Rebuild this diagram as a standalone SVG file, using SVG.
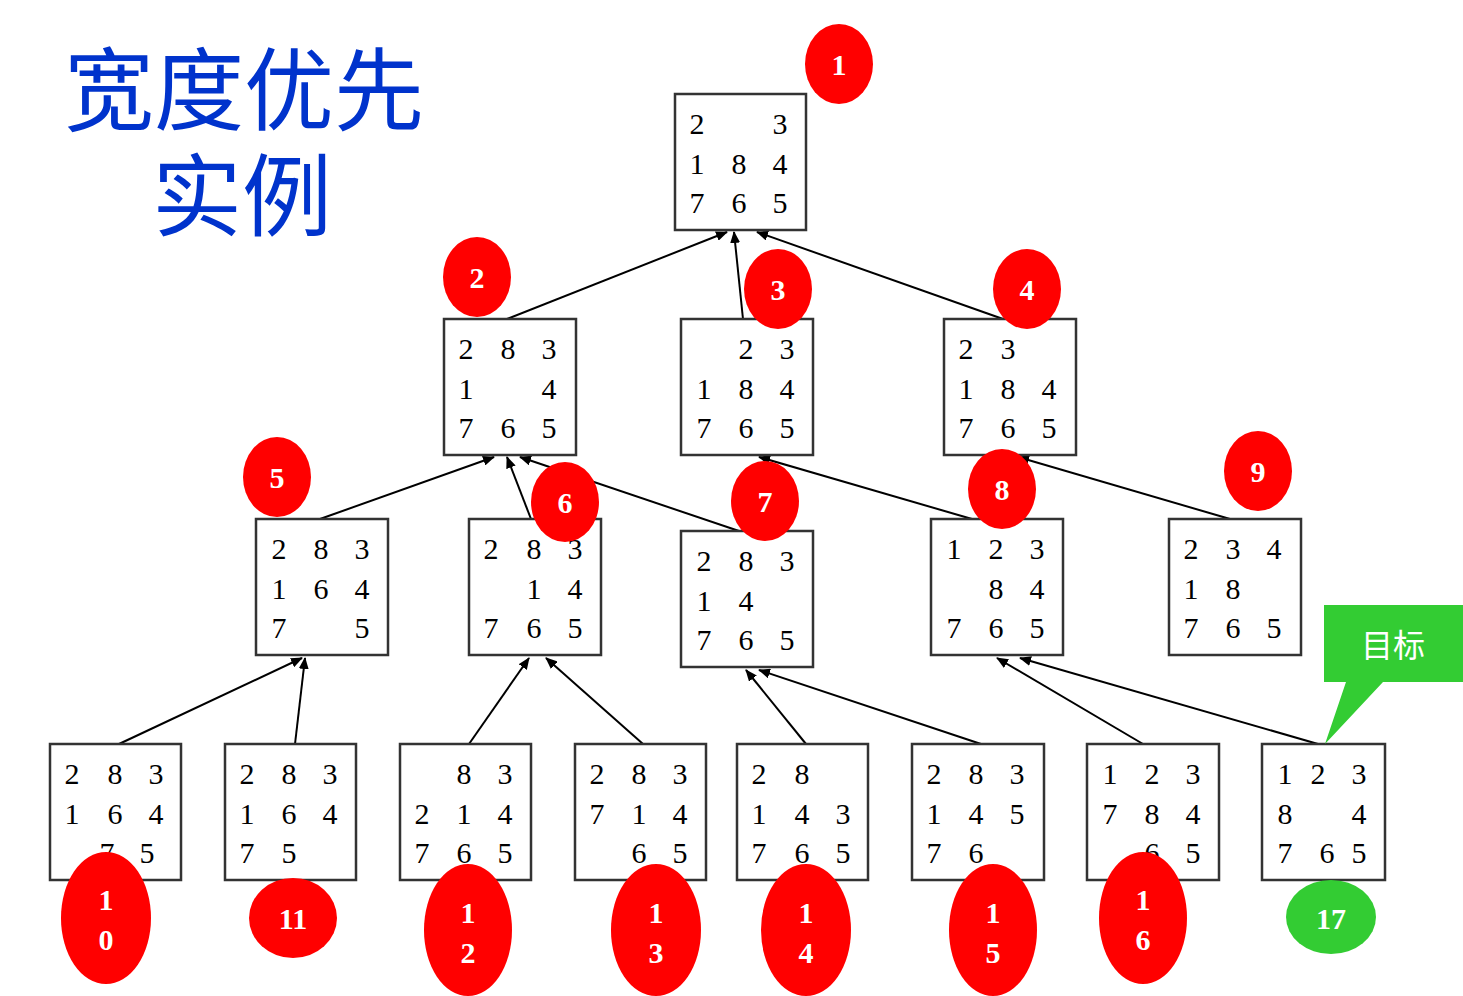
<svg xmlns="http://www.w3.org/2000/svg" width="1463" height="996" viewBox="0 0 1463 996">
<style>
.box{fill:#fff;stroke:#333;stroke-width:2.5}
.d{font-family:"Liberation Serif","Times New Roman",serif;font-size:30px;fill:#000;text-anchor:middle}
.lbl{font-family:"Liberation Serif","Times New Roman",serif;font-size:30px;font-weight:bold;fill:#fff;text-anchor:middle}
.red{fill:#ff0000}
.grn{fill:#33cc33}
.conn line{stroke:#000;stroke-width:2;marker-end:url(#arr)}
.title{font-family:"Liberation Sans","Noto Sans CJK SC","Noto Sans CJK JP",sans-serif;font-size:90px;fill:#0033cc;text-anchor:middle}
</style>
<defs>
<marker id="arr" viewBox="0 0 12 10" refX="11" refY="5" markerWidth="12" markerHeight="10" markerUnits="userSpaceOnUse" orient="auto">
<path d="M0,0 L12,5 L0,10 z" fill="#000"/>
</marker>
</defs>
<rect width="1463" height="996" fill="#fff"/>
<g id="title">
<text class="title" x="244" y="123">宽度优先</text>
<text class="title" x="242" y="229">实例</text>
</g>
<g id="connectors" class="conn">
<line x1="507" y1="319" x2="727" y2="232"/>
<line x1="743" y1="319" x2="734" y2="232"/>
<line x1="1003" y1="319" x2="757" y2="232"/>
<line x1="320" y1="519" x2="494" y2="457"/>
<line x1="531" y1="519" x2="507" y2="457"/>
<line x1="739" y1="531" x2="520" y2="457"/>
<line x1="972" y1="519" x2="759" y2="457"/>
<line x1="1230" y1="519" x2="1018" y2="457"/>
<line x1="119" y1="744" x2="302" y2="658"/>
<line x1="295" y1="744" x2="305" y2="658"/>
<line x1="469" y1="744" x2="529" y2="658"/>
<line x1="643" y1="744" x2="546" y2="658"/>
<line x1="806" y1="744" x2="746" y2="670"/>
<line x1="981" y1="744" x2="759" y2="670"/>
<line x1="1143" y1="744" x2="997" y2="658"/>
<line x1="1318" y1="744" x2="1020" y2="658"/>
</g>
<g id="n1"><rect class="box" x="675" y="94" width="131" height="136"/>
<text class="d" x="697" y="134">2</text><text class="d" x="780" y="134">3</text>
<text class="d" x="697" y="174">1</text><text class="d" x="739" y="174">8</text><text class="d" x="780" y="174">4</text>
<text class="d" x="697" y="213">7</text><text class="d" x="739" y="213">6</text><text class="d" x="780" y="213">5</text></g>
<g id="n2"><rect class="box" x="444" y="319" width="132" height="136"/>
<text class="d" x="466" y="359">2</text><text class="d" x="508" y="359">8</text><text class="d" x="549" y="359">3</text>
<text class="d" x="466" y="399">1</text><text class="d" x="549" y="399">4</text>
<text class="d" x="466" y="438">7</text><text class="d" x="508" y="438">6</text><text class="d" x="549" y="438">5</text></g>
<g id="n3"><rect class="box" x="681" y="319" width="132" height="136"/>
<text class="d" x="746" y="359">2</text><text class="d" x="787" y="359">3</text>
<text class="d" x="704" y="399">1</text><text class="d" x="746" y="399">8</text><text class="d" x="787" y="399">4</text>
<text class="d" x="704" y="438">7</text><text class="d" x="746" y="438">6</text><text class="d" x="787" y="438">5</text></g>
<g id="n4"><rect class="box" x="944" y="319" width="132" height="136"/>
<text class="d" x="966" y="359">2</text><text class="d" x="1008" y="359">3</text>
<text class="d" x="966" y="399">1</text><text class="d" x="1008" y="399">8</text><text class="d" x="1049" y="399">4</text>
<text class="d" x="966" y="438">7</text><text class="d" x="1008" y="438">6</text><text class="d" x="1049" y="438">5</text></g>
<g id="n5"><rect class="box" x="256" y="519" width="132" height="136"/>
<text class="d" x="279" y="559">2</text><text class="d" x="321" y="559">8</text><text class="d" x="362" y="559">3</text>
<text class="d" x="279" y="599">1</text><text class="d" x="321" y="599">6</text><text class="d" x="362" y="599">4</text>
<text class="d" x="279" y="638">7</text><text class="d" x="362" y="638">5</text></g>
<g id="n6"><rect class="box" x="469" y="519" width="132" height="136"/>
<text class="d" x="491" y="559">2</text><text class="d" x="534" y="559">8</text><text class="d" x="575" y="559">3</text>
<text class="d" x="534" y="599">1</text><text class="d" x="575" y="599">4</text>
<text class="d" x="491" y="638">7</text><text class="d" x="534" y="638">6</text><text class="d" x="575" y="638">5</text></g>
<g id="n7"><rect class="box" x="681" y="531" width="132" height="136"/>
<text class="d" x="704" y="571">2</text><text class="d" x="746" y="571">8</text><text class="d" x="787" y="571">3</text>
<text class="d" x="704" y="611">1</text><text class="d" x="746" y="611">4</text>
<text class="d" x="704" y="650">7</text><text class="d" x="746" y="650">6</text><text class="d" x="787" y="650">5</text></g>
<g id="n8"><rect class="box" x="931" y="519" width="132" height="136"/>
<text class="d" x="954" y="559">1</text><text class="d" x="996" y="559">2</text><text class="d" x="1037" y="559">3</text>
<text class="d" x="996" y="599">8</text><text class="d" x="1037" y="599">4</text>
<text class="d" x="954" y="638">7</text><text class="d" x="996" y="638">6</text><text class="d" x="1037" y="638">5</text></g>
<g id="n9"><rect class="box" x="1169" y="519" width="132" height="136"/>
<text class="d" x="1191" y="559">2</text><text class="d" x="1233" y="559">3</text><text class="d" x="1274" y="559">4</text>
<text class="d" x="1191" y="599">1</text><text class="d" x="1233" y="599">8</text>
<text class="d" x="1191" y="638">7</text><text class="d" x="1233" y="638">6</text><text class="d" x="1274" y="638">5</text></g>
<g id="n10"><rect class="box" x="50" y="744" width="131" height="136"/>
<text class="d" x="72" y="784">2</text><text class="d" x="115" y="784">8</text><text class="d" x="156" y="784">3</text>
<text class="d" x="72" y="824">1</text><text class="d" x="115" y="824">6</text><text class="d" x="156" y="824">4</text>
<text class="d" x="107" y="863">7</text><text class="d" x="147" y="863">5</text></g>
<g id="n11"><rect class="box" x="225" y="744" width="131" height="136"/>
<text class="d" x="247" y="784">2</text><text class="d" x="289" y="784">8</text><text class="d" x="330" y="784">3</text>
<text class="d" x="247" y="824">1</text><text class="d" x="289" y="824">6</text><text class="d" x="330" y="824">4</text>
<text class="d" x="247" y="863">7</text><text class="d" x="289" y="863">5</text></g>
<g id="n12"><rect class="box" x="400" y="744" width="131" height="136"/>
<text class="d" x="464" y="784">8</text><text class="d" x="505" y="784">3</text>
<text class="d" x="422" y="824">2</text><text class="d" x="464" y="824">1</text><text class="d" x="505" y="824">4</text>
<text class="d" x="422" y="863">7</text><text class="d" x="464" y="863">6</text><text class="d" x="505" y="863">5</text></g>
<g id="n13"><rect class="box" x="575" y="744" width="131" height="136"/>
<text class="d" x="597" y="784">2</text><text class="d" x="639" y="784">8</text><text class="d" x="680" y="784">3</text>
<text class="d" x="597" y="824">7</text><text class="d" x="639" y="824">1</text><text class="d" x="680" y="824">4</text>
<text class="d" x="639" y="863">6</text><text class="d" x="680" y="863">5</text></g>
<g id="n14"><rect class="box" x="737" y="744" width="131" height="136"/>
<text class="d" x="759" y="784">2</text><text class="d" x="802" y="784">8</text>
<text class="d" x="759" y="824">1</text><text class="d" x="802" y="824">4</text><text class="d" x="843" y="824">3</text>
<text class="d" x="759" y="863">7</text><text class="d" x="802" y="863">6</text><text class="d" x="843" y="863">5</text></g>
<g id="n15"><rect class="box" x="912" y="744" width="132" height="136"/>
<text class="d" x="934" y="784">2</text><text class="d" x="976" y="784">8</text><text class="d" x="1017" y="784">3</text>
<text class="d" x="934" y="824">1</text><text class="d" x="976" y="824">4</text><text class="d" x="1017" y="824">5</text>
<text class="d" x="934" y="863">7</text><text class="d" x="976" y="863">6</text></g>
<g id="n16"><rect class="box" x="1087" y="744" width="132" height="136"/>
<text class="d" x="1110" y="784">1</text><text class="d" x="1152" y="784">2</text><text class="d" x="1193" y="784">3</text>
<text class="d" x="1110" y="824">7</text><text class="d" x="1152" y="824">8</text><text class="d" x="1193" y="824">4</text>
<text class="d" x="1152" y="863">6</text><text class="d" x="1193" y="863">5</text></g>
<g id="n17"><rect class="box" x="1262" y="744" width="123" height="136"/>
<text class="d" x="1285" y="784">1</text><text class="d" x="1318" y="784">2</text><text class="d" x="1359" y="784">3</text>
<text class="d" x="1285" y="824">8</text><text class="d" x="1359" y="824">4</text>
<text class="d" x="1285" y="863">7</text><text class="d" x="1327" y="863">6</text><text class="d" x="1359" y="863">5</text></g>
<g id="goal-callout">
<path d="M1324,605 H1463 V682 H1383 L1325,744 L1346,682 H1324 Z" class="grn"/>
<text x="1393" y="657" font-family="'Noto Sans CJK SC',sans-serif" font-size="32" fill="#fff" text-anchor="middle">目标</text>
</g>
<g id="label1"><ellipse class="red" cx="839" cy="64" rx="34" ry="40"/><text class="lbl" x="839" y="75">1</text></g>
<g id="label2"><ellipse class="red" cx="477" cy="277" rx="34" ry="40"/><text class="lbl" x="477" y="288">2</text></g>
<g id="label3"><ellipse class="red" cx="778" cy="289" rx="34" ry="40"/><text class="lbl" x="778" y="300">3</text></g>
<g id="label4"><ellipse class="red" cx="1027" cy="289" rx="34" ry="40"/><text class="lbl" x="1027" y="300">4</text></g>
<g id="label5"><ellipse class="red" cx="277" cy="477" rx="34" ry="40"/><text class="lbl" x="277" y="488">5</text></g>
<g id="label6"><ellipse class="red" cx="565" cy="502" rx="34" ry="40"/><text class="lbl" x="565" y="513">6</text></g>
<g id="label7"><ellipse class="red" cx="765" cy="501" rx="34" ry="40"/><text class="lbl" x="765" y="512">7</text></g>
<g id="label8"><ellipse class="red" cx="1002" cy="489" rx="34" ry="40"/><text class="lbl" x="1002" y="500">8</text></g>
<g id="label9"><ellipse class="red" cx="1258" cy="471" rx="34" ry="40"/><text class="lbl" x="1258" y="482">9</text></g>
<g id="label10"><ellipse class="red" cx="106" cy="918" rx="45" ry="66"/><text class="lbl" x="106" y="910">1</text><text class="lbl" x="106" y="950">0</text></g>
<g id="label11"><ellipse class="red" cx="293" cy="918" rx="44" ry="40"/><text class="lbl" x="293" y="929">11</text></g>
<g id="label12"><ellipse class="red" cx="468" cy="930" rx="44" ry="66"/><text class="lbl" x="468" y="923">1</text><text class="lbl" x="468" y="963">2</text></g>
<g id="label13"><ellipse class="red" cx="656" cy="930" rx="45" ry="66"/><text class="lbl" x="656" y="923">1</text><text class="lbl" x="656" y="963">3</text></g>
<g id="label14"><ellipse class="red" cx="806" cy="930" rx="45" ry="66"/><text class="lbl" x="806" y="923">1</text><text class="lbl" x="806" y="963">4</text></g>
<g id="label15"><ellipse class="red" cx="993" cy="930" rx="44" ry="66"/><text class="lbl" x="993" y="923">1</text><text class="lbl" x="993" y="963">5</text></g>
<g id="label16"><ellipse class="red" cx="1143" cy="918" rx="44" ry="66"/><text class="lbl" x="1143" y="910">1</text><text class="lbl" x="1143" y="950">6</text></g>
<g id="label17"><ellipse class="grn" cx="1331" cy="917" rx="45" ry="37"/><text class="lbl" x="1331" y="929">17</text></g>
</svg>
